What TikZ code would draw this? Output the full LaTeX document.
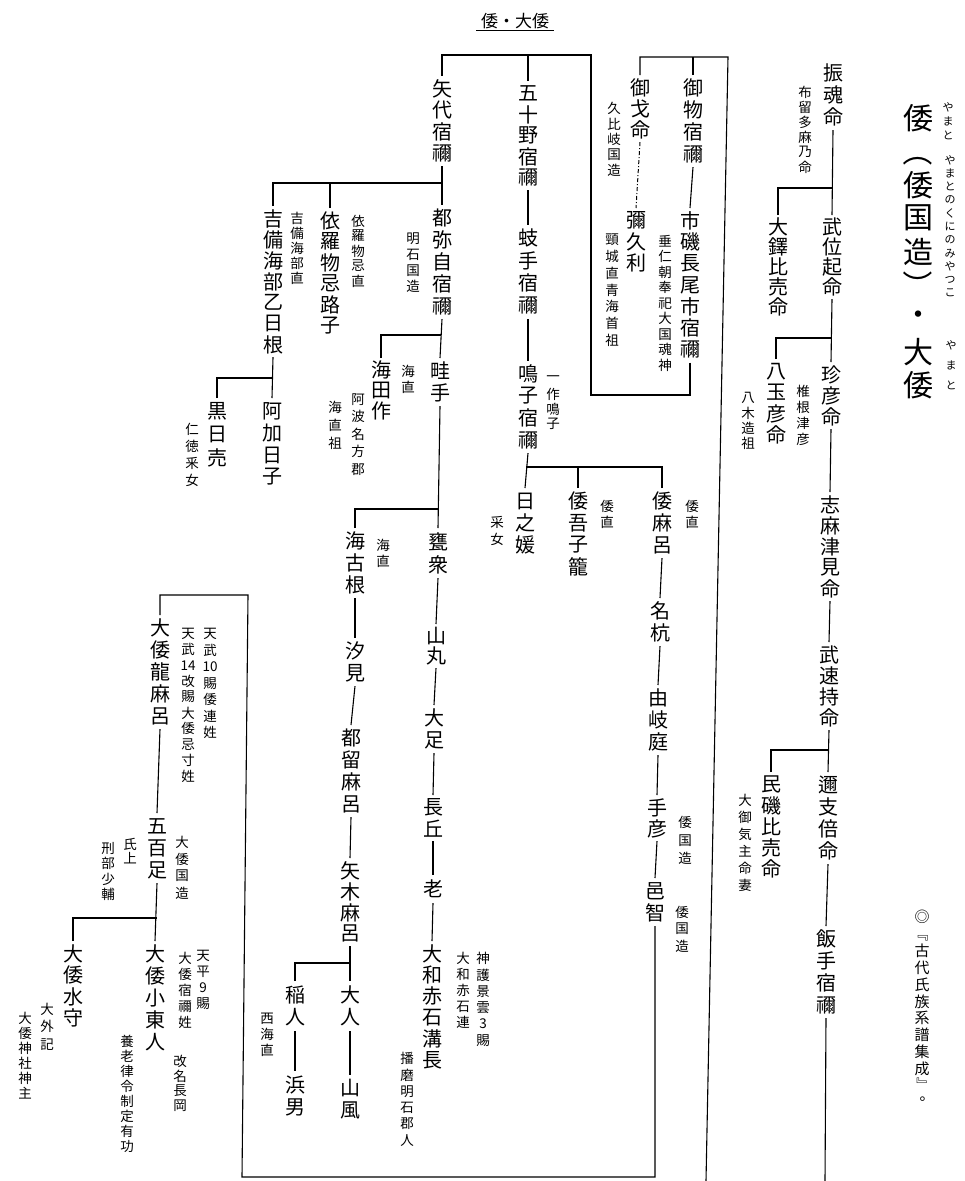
\documentclass[tikz,border=0pt]{standalone}
\usepackage{fontspec}
\newfontfamily\jp{Noto Sans CJK JP}
\makeatletter
\newcommand\vt[2]{\vbox{\offinterlineskip\@tfor\vt@c:=#2\do{\vbox to #1{\vss\hbox to 1.2em{\hss\vt@c\hss}\vss}}}}
\makeatother
\tikzset{
  nm/.style={anchor=north,inner sep=1.5pt,font=\jp\fontsize{20}{20}\selectfont},
  nt/.style={anchor=north,inner sep=1pt,font=\jp\fontsize{13.5}{13.5}\selectfont},
  rb/.style={anchor=north,inner sep=0pt,font=\jp\fontsize{11}{11}\selectfont},
  bt/.style={inner sep=0pt,font=\jp\fontsize{30}{30}\selectfont},
  ct/.style={inner sep=0pt,font=\jp\fontsize{15}{15}\selectfont},
  dashdot/.style={dash pattern=on 4pt off 2pt on 1pt off 2pt},
}
\begin{document}
\begin{tikzpicture}[x=1pt,y=-1pt,line width=1.1pt]
\useasboundingbox (0,0) rectangle (965,1181);
\fill[white] (0,0) rectangle (965,1181);

% title
\node[font=\jp\fontsize{17}{17}\selectfont,inner sep=1pt] (title) at (515,21) {倭・大倭};
\draw[line width=0.8pt] ([xshift=-3pt]title.south west) -- ([xshift=3pt]title.south east);

% big title and ruby
\node[bt] (b1) at (918,118) {倭};
\node[bt,rotate=-90] (b2) at (918,151) {（};
\node[bt] (b3) at (918,185) {倭};
\node[bt] (b4) at (918,218) {国};
\node[bt] (b5) at (918,252) {造};
\node[bt,rotate=-90] (b6) at (918,285) {）};
\node[bt] (b7) at (918,318) {・};
\node[bt] (b8) at (918,352) {大};
\node[bt] (b9) at (918,385) {倭};
\node[rb] (r1) at (948,100) {\vt{14pt}{やまと}};
\node[rb] (r2) at (950,153) {\vt{13.3pt}{やまとのくにのみやつこ}};
\node[rb] (r3) at (951,335) {\vt{20pt}{やまと}};

% citation
\node[ct] (c1) at (922,917) {◎};
\node[ct,rotate=-90] (c2) at (922,934) {『};
\node[ct,anchor=north] (c3) at (922,942) {\vt{16.8pt}{古代氏族系譜集成}};
\node[ct,rotate=-90] (c4) at (922,1085) {』};
\node[ct] (c5) at (927,1099) {。};

% right column
\node[nm] (furu) at (833,60) {\vt{22pt}{振魂命}};
\node[nt] (furun) at (805,83) {\vt{15pt}{布留多麻乃命}};
\node[nm] (takei) at (832,215) {\vt{20pt}{武位起命}};
\node[nm] (ohnu) at (778,215) {\vt{20pt}{大鐸比売命}};
\node[nm] (uzu) at (831,362) {\vt{21pt}{珍彦命}};
\node[nt] (uzun) at (803,382) {\vt{16pt}{椎根津彦}};
\node[nm] (yatama) at (776,359) {\vt{21pt}{八玉彦命}};
\node[nt] (yataman) at (748,389) {\vt{15pt}{八木造祖}};
\node[nm] (shima) at (830,492) {\vt{21pt}{志麻津見命}};
\node[nm] (takeha) at (829,642) {\vt{21pt}{武速持命}};
\node[nm] (tami) at (771,772) {\vt{21pt}{民磯比売命}};
\node[nt] (tamin) at (745,790) {\vt{17pt}{大御気主命妻}};
\node[nm] (toko) at (828,772) {\vt{22pt}{邇支倍命}};
\node[nm] (ii) at (826,926) {\vt{22pt}{飯手宿禰}};
\coordinate (iib) at (825,1181);

\coordinate (j1) at (833,188);
\coordinate (j2) at (832,338);
\coordinate (j3) at (829,750);
\draw (furu.south) -- (takei.north);
\draw (ohnu.north) |- (j1);
\draw (takei.south) -- (uzu.north);
\draw (yatama.north) |- (j2);
\draw (uzu.south) -- (shima.north);
\draw (shima.south) -- (takeha.north);
\draw (takeha.south) -- (toko.north);
\draw (tami.north) |- (j3);
\draw (toko.south) -- (ii.north);
\draw (ii.south) -- (iib);

% mimono section
\node[nm] (mimono) at (693,75) {\vt{22pt}{御物宿禰}};
\node[nm] (ichi) at (690,208) {\vt{21.5pt}{市磯長尾市宿禰}};
\node[nt] (ichin) at (665,232) {\vt{15.5pt}{垂仁朝奉祀大国魂神}};
\node[nm] (mihoko) at (640,75) {\vt{21pt}{御戈命}};
\node[nt] (mihokon) at (614,99) {\vt{15.5pt}{久比岐国造}};
\node[nm] (miku) at (636,208) {\vt{21pt}{彌久利}};
\node[nt] (mikun) at (612,230) {\vt{16.7pt}{頸城直青海首祖}};

\coordinate (cC) at (728,57);
\coordinate (cD) at (706,1181);
\draw (mihoko.north) |- (cC) -- (cD);
\draw (mimono.north) -- (mimono.north |- cC);
\draw[dashdot,line width=1pt] (mihoko.south) -- (miku.north);
\draw (mimono.south) -- (ichi.north);

% yashiro
\node[nm] (yashiro) at (442,76) {\vt{21.5pt}{矢代宿禰}};
\node[nm] (tsumi) at (442,205) {\vt{22pt}{都弥自宿禰}};
\node[nt] (tsumin) at (413,229) {\vt{16pt}{明石国造}};
\node[nm] (kibi) at (273,206) {\vt{21pt}{吉備海部乙日根}};
\node[nt] (kibin) at (297,209) {\vt{15pt}{吉備海部直}};
\node[nm] (yosami) at (330,208) {\vt{21pt}{依羅物忌路子}};
\node[nt] (yosamin) at (358,212) {\vt{15pt}{依羅物忌直}};
\node[nm] (kuro) at (217,398) {\vt{23pt}{黒日売}};
\node[nt] (kuron) at (192,419) {\vt{17pt}{仁徳釆女}};
\node[nm] (aka) at (272,398) {\vt{22pt}{阿加日子}};
\node[nm] (une) at (440,358) {\vt{22pt}{畦手}};
\node[nm] (amata) at (381,358) {\vt{20.5pt}{海田作}};
\node[nt] (amatana) at (408,362) {\vt{16pt}{海直}};
\node[nt] (amatanb) at (358,389) {\vt{17.5pt}{阿波名方郡}};
\node[nt] (amatanc) at (335,397) {\vt{18pt}{海直祖}};

% isono
\node[nm] (isono) at (528,81) {\vt{21pt}{五十野宿禰}};
\node[nm] (kite) at (528,225) {\vt{22.5pt}{蚑手宿禰}};
\node[nm] (naru) at (528,361) {\vt{22pt}{鳴子宿禰}};
\node[nt] (narun) at (553,370) {\vt{15pt}{一作鳴子}};
\node[nm] (hino) at (525,488) {\vt{22pt}{日之媛}};
\node[nt] (hinon) at (497,512) {\vt{17pt}{采女}};
\node[nm] (agoko) at (578,488) {\vt{22pt}{倭吾子籠}};
\node[nt] (agokon) at (607,497) {\vt{16pt}{倭直}};
\node[nm] (yamaro) at (662,488) {\vt{22pt}{倭麻呂}};
\node[nt] (yamaron) at (692,497) {\vt{16pt}{倭直}};
\node[nm] (nakui) at (660,598) {\vt{22pt}{名杭}};
\node[nm] (yuki) at (658,685) {\vt{22pt}{由岐庭}};
\node[nm] (tehiko) at (657,795) {\vt{21pt}{手彦}};
\node[nt] (tehikon) at (685,812) {\vt{18pt}{倭国造}};
\node[nm] (ochi) at (655,878) {\vt{22pt}{邑智}};
\node[nt] (ochin) at (682,902) {\vt{17pt}{倭国造}};

% box connecting ichi to yashiro / isono
\coordinate (cA) at (591,395);
\coordinate (cB) at (591,55);
\draw (ichi.south) |- (cA) -- (cB) -| (yashiro.north);
\draw (isono.north) -- (isono.north |- cB);

\coordinate (j4) at (442,183);
\coordinate (j5) at (441,335);
\coordinate (j6) at (273,378);
\draw (yashiro.south) -- (tsumi.north);
\draw (kibi.north) |- (j4);
\draw (yosami.north) -- (yosami.north |- j4);
\draw (tsumi.south) -- (une.north);
\draw (amata.north) |- (j5);
\draw (kibi.south) -- (aka.north);
\draw (kuro.north) |- (j6);

\coordinate (j7) at (526,467);
\draw (isono.south) -- (kite.north);
\draw (kite.south) -- (naru.north);
\draw (naru.south) -- (hino.north);
\draw (yamaro.north) |- (j7);
\draw (agoko.north) -- (agoko.north |- j7);
\draw (yamaro.south) -- (nakui.north);
\draw (nakui.south) -- (yuki.north);
\draw (yuki.south) -- (tehiko.north);
\draw (tehiko.south) -- (ochi.north);

% une children
\node[nm] (unaka) at (355,528) {\vt{22pt}{海古根}};
\node[nt] (unakan) at (383,536) {\vt{16pt}{海直}};
\node[nm] (mika) at (438,528) {\vt{23pt}{甕衆}};
\node[nm] (yamam) at (436,624) {\vt{20pt}{山丸}};
\node[nm] (otari) at (434,705) {\vt{22pt}{大足}};
\node[nm] (nagao) at (433,795) {\vt{21pt}{長丘}};
\node[nm] (oyu) at (433,875) {\vt{24pt}{老}};
\node[nm] (akashi) at (432,941) {\vt{21.3pt}{大和赤石溝長}};
\node[nt] (akashina) at (483,949) {\vt{16.3pt}{神護景雲3賜}};
\node[nt] (akashinb) at (463,949) {\vt{16pt}{大和赤石連}};
\node[nt] (akashinc) at (407,1049) {\vt{16.3pt}{播磨明石郡人}};
\node[nm] (shiomi) at (355,638) {\vt{22pt}{汐見}};
\node[nm] (tsuru) at (351,725) {\vt{22pt}{都留麻呂}};
\node[nm] (yagi) at (350,858) {\vt{21pt}{矢木麻呂}};
\node[nm] (ine) at (295,981) {\vt{23pt}{稲人}};
\node[nt] (inen) at (267,1009) {\vt{16pt}{西海直}};
\node[nm] (hama) at (295,1071) {\vt{23pt}{浜男}};
\node[nm] (ohito) at (350,981) {\vt{23pt}{大人}};
\node[nm] (yamak) at (350,1075) {\vt{22pt}{山風}};

\coordinate (j8) at (439,509);
\coordinate (j9) at (350,963);
\draw (une.south) -- (mika.north);
\draw (unaka.north) |- (j8);
\draw (mika.south) -- (yamam.north);
\draw (yamam.south) -- (otari.north);
\draw (otari.south) -- (nagao.north);
\draw (nagao.south) -- (oyu.north);
\draw (oyu.south) -- (akashi.north);
\draw (unaka.south) -- (shiomi.north);
\draw (shiomi.south) -- (tsuru.north);
\draw (tsuru.south) -- (yagi.north);
\draw (yagi.south) -- (ohito.north);
\draw (ohito.south) -- (yamak.north);
\draw (ine.north) |- (j9);
\draw (ine.south) -- (hama.north);

% lower left
\node[nm] (ryu) at (160,615) {\vt{22pt}{大倭龍麻呂}};
\node[nt] (ryuna) at (210,624) {\vt{16.5pt}{天武{10}賜倭連姓}};
\node[nt] (ryunb) at (188,624) {\vt{15.9pt}{天武{14}改賜大倭忌寸姓}};
\node[nm] (iho) at (157,813) {\vt{22pt}{五百足}};
\node[nt] (ihona) at (182,832) {\vt{17pt}{大倭国造}};
\node[nt] (ihonb) at (130,836) {\vt{14pt}{氏上}};
\node[nt] (ihonc) at (108,839) {\vt{15.5pt}{刑部少輔}};
\node[nm] (mimori) at (73,941) {\vt{21.5pt}{大倭水守}};
\node[nt] (mimorina) at (47,999) {\vt{17.5pt}{大外記}};
\node[nt] (mimorinb) at (25,1009) {\vt{15pt}{大倭神社神主}};
\node[nm] (ozuma) at (155,941) {\vt{22pt}{大倭小東人}};
\node[nt] (ozumana) at (203,946) {\vt{16pt}{天平9賜}};
\node[nt] (ozumanb) at (185,949) {\vt{16pt}{大倭宿禰姓}};
\node[nt] (ozumanc) at (180,1052) {\vt{15pt}{改名長岡}};
\node[nt] (ozumand) at (127,1032) {\vt{15pt}{養老律令制定有功}};

\coordinate (cF) at (242,1177);
\coordinate (cG) at (248,595);
\draw (ochi.south) -- (ochi.south |- cF) -- (cF) -- (cG) -| (ryu.north);
\coordinate (j10) at (157,918);
\draw (ryu.south) -- (iho.north);
\draw (iho.south) -- (ozuma.north);
\draw (mimori.north) |- (j10);
\end{tikzpicture}
\end{document}
